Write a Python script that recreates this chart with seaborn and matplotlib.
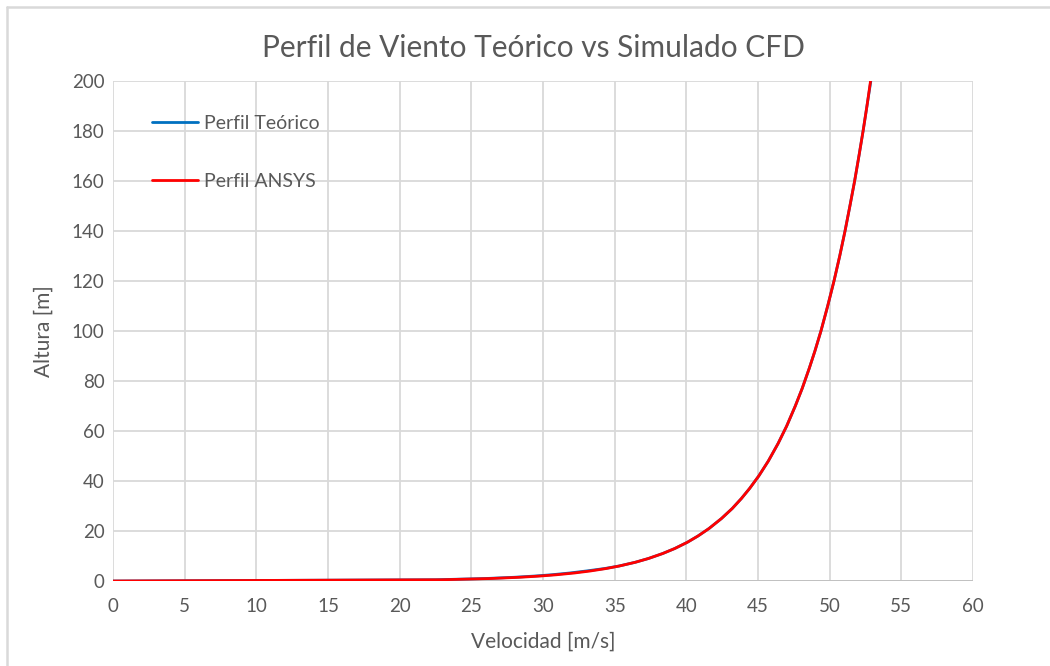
import numpy as np
import pandas as pd
import matplotlib
matplotlib.use("Agg")
import matplotlib.pyplot as plt
from matplotlib.lines import Line2D
import seaborn as sns

sns.set_theme(style="whitegrid")
plt.rcParams['font.family'] = ['Lato', 'DejaVu Sans']

# Datos (altura en m, velocidad en m/s)

altura = [0, 0.5, 1.0, 1.5, 2, 2.5, 3.2, 4, 5, 6, 7.5, 9, 11, 13, 15.5, 18, 21, 25, 29, 33, 37,
          42, 48, 55, 62, 70, 77, 85, 92, 100, 110, 120, 130, 140, 150, 160, 170, 180, 190, 200]
vel_teorico = [0, 22.5, 26.0, 28.0, 29.45, 30.6, 31.85, 33.0, 34.3, 35.3, 36.44, 37.35, 38.35, 39.19,
               40.07, 40.81, 41.58, 42.45, 43.2, 43.84, 44.41, 45.05, 45.72, 46.4, 47.0, 47.6, 48.08,
               48.57, 48.97, 49.39, 49.86, 50.3, 50.7, 51.07, 51.41, 51.74, 52.04, 52.33, 52.6, 52.87]
vel_ansys = [0, 22.9, 26.36, 28.39, 29.83, 30.94, 32.18, 33.29, 34.41, 35.32, 36.44, 37.35, 38.35, 39.19,
             40.07, 40.81, 41.58, 42.45, 43.2, 43.84, 44.41, 45.05, 45.72, 46.4, 47.0, 47.6, 48.08,
             48.57, 48.97, 49.39, 49.86, 50.3, 50.7, 51.07, 51.41, 51.74, 52.04, 52.33, 52.6, 52.85]

gris = '#595959'

fig = plt.figure(figsize=(10.5, 6.66), dpi=100)
ax = fig.add_axes([0.1076, 0.1276, 0.8191, 0.7508])

sns.lineplot(x=vel_teorico, y=altura, sort=False, estimator=None, color='#0070C0',
             linewidth=2, label='Perfil Teórico', ax=ax)
sns.lineplot(x=vel_ansys, y=altura, sort=False, estimator=None, color='#FF0000',
             linewidth=2, label='Perfil ANSYS', ax=ax)

ax.set_xlim(0, 60)
ax.set_ylim(0, 200)
ax.set_xticks(np.arange(0, 61, 5))
ax.set_yticks(np.arange(0, 201, 20))
ax.grid(True, color='#D9D9D9', linewidth=1.3)
for s in ax.spines.values():
    s.set_visible(False)
ax.axhline(0, color='#BFBFBF', linewidth=1.3, zorder=1)

ax.tick_params(axis='both', labelsize=13.5, colors=gris, length=0)
ax.tick_params(axis='x', pad=12)
ax.tick_params(axis='y', pad=6)
ax.set_xlabel('Velocidad [m/s]', fontsize=15, color=gris, labelpad=12)
ax.set_ylabel('Altura [m]', fontsize=15, color=gris, labelpad=13)
ax.set_title('Perfil de Viento Teórico vs Simulado CFD', fontsize=21.5, color=gris, pad=17, x=0.489)

ax.legend(loc='upper left', bbox_to_anchor=(0.045, 0.932), frameon=False, fontsize=14,
          handlelength=2.4, handletextpad=0.3, labelspacing=2.1, borderpad=0,
          borderaxespad=0, labelcolor=gris)

# marco de la captura
fig.add_artist(Line2D([7 / 1050, 7 / 1050], [0, 1 - 7 / 666], color='#D9D9D9', linewidth=1.8))
fig.add_artist(Line2D([7 / 1050, 1], [1 - 7 / 666, 1 - 7 / 666], color='#D9D9D9', linewidth=1.8))

fig.savefig('out.png', dpi=100)
